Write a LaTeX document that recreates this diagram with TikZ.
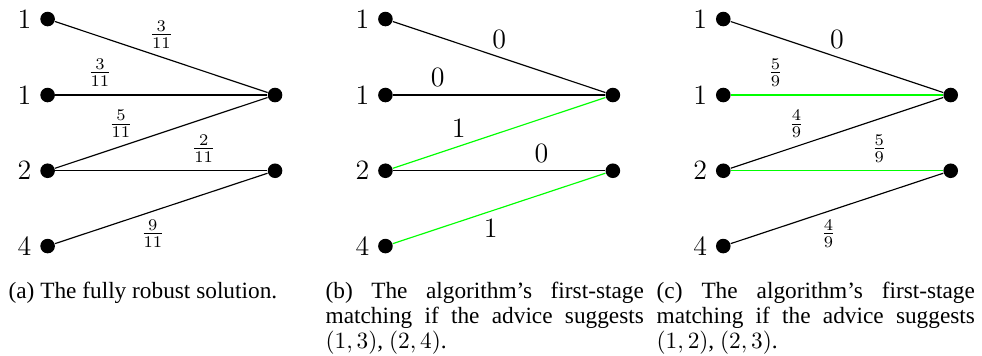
\documentclass[tikz,border=0pt]{standalone}
\usepackage{fontspec}
\newfontfamily\capfont{Liberation Serif}

\tikzset{
    dot/.style={circle, fill, inner sep=0pt, minimum size=0.22cm},
    wt/.style={font=\large},
    subcap/.style={anchor=north west, inner sep=0pt, text width=4.8cm, align=justify,
        font=\capfont\fontsize{10}{10.8}\selectfont},
}

\begin{document}
\begin{tikzpicture}[line width=0.5pt, every label/.style={font=\large}]
    \useasboundingbox (0, 0) rectangle (14.81, -5.355);
    % robust solution
    \begin{scope}[xshift=0cm]
        \node[dot, label=left:$1$] (a1) at (0.718, -0.287) {};
        \node[dot, label=left:$1$] (a2) at (0.718, -1.433) {};
        \node[dot, label=left:$2$] (a3) at (0.718, -2.575) {};
        \node[dot, label=left:$4$] (a4) at (0.718, -3.711) {};
        \node[dot] (ar1) at (4.148, -1.433) {};
        \node[dot] (ar2) at (4.148, -2.575) {};
        \draw (a1) -- node[pos=0.5, above] {$\frac{3}{11}$} (ar1);
        \draw (a2) -- node[pos=0.21, above] {$\frac{3}{11}$} (ar1);
        \draw (a3) -- node[pos=0.31, above] {$\frac{5}{11}$} (ar1);
        \draw (a3) -- node[pos=0.7, above] {$\frac{2}{11}$} (ar2);
        \draw (a4) -- node[pos=0.46, below] {$\frac{9}{11}$} (ar2);
        \node[subcap] (capa) at (0.121, -4.22) {\strut (a) The fully robust solution.};
    \end{scope}

    % advice (1,3),(2,4)
    \begin{scope}[xshift=5.095cm]
        \node[dot, label=left:$1$] (b1) at (0.718, -0.287) {};
        \node[dot, label=left:$1$] (b2) at (0.718, -1.433) {};
        \node[dot, label=left:$2$] (b3) at (0.718, -2.575) {};
        \node[dot, label=left:$4$] (b4) at (0.718, -3.711) {};
        \node[dot] (br1) at (4.148, -1.433) {};
        \node[dot] (br2) at (4.148, -2.575) {};
        \draw (b1) -- node[wt, pos=0.5, above] {$0$} (br1);
        \draw (b2) -- node[wt, pos=0.21, above] {$0$} (br1);
        \draw[green] (b3) -- node[wt, pos=0.31, above, black] {$1$} (br1);
        \draw (b3) -- node[wt, pos=0.7, above] {$0$} (br2);
        \draw[green] (b4) -- node[wt, pos=0.46, below, black] {$1$} (br2);
        \node[subcap] (capb) at (-0.193, -4.22) {\strut (b) The algorithm’s first-stage matching if the advice suggests $(1,3)$, $(2,4)$.};
    \end{scope}

    % advice (1,2),(2,3)
    \begin{scope}[xshift=10.19cm]
        \node[dot, label=left:$1$] (c1) at (0.718, -0.287) {};
        \node[dot, label=left:$1$] (c2) at (0.718, -1.433) {};
        \node[dot, label=left:$2$] (c3) at (0.718, -2.575) {};
        \node[dot, label=left:$4$] (c4) at (0.718, -3.711) {};
        \node[dot] (cr1) at (4.148, -1.433) {};
        \node[dot] (cr2) at (4.148, -2.575) {};
        \draw (c1) -- node[wt, pos=0.5, above] {$0$} (cr1);
        \draw[green] (c2) -- node[pos=0.21, above, black] {$\frac{5}{9}$} (cr1);
        \draw (c3) -- node[pos=0.31, above] {$\frac{4}{9}$} (cr1);
        \draw[green] (c3) -- node[pos=0.7, above, black] {$\frac{5}{9}$} (cr2);
        \draw (c4) -- node[pos=0.46, below] {$\frac{4}{9}$} (cr2);
        \node[subcap] (capc) at (-0.295, -4.22) {\strut (c) The algorithm’s first-stage matching if the advice suggests $(1,2)$, $(2,3)$.};
    \end{scope}
\end{tikzpicture}
\end{document}
